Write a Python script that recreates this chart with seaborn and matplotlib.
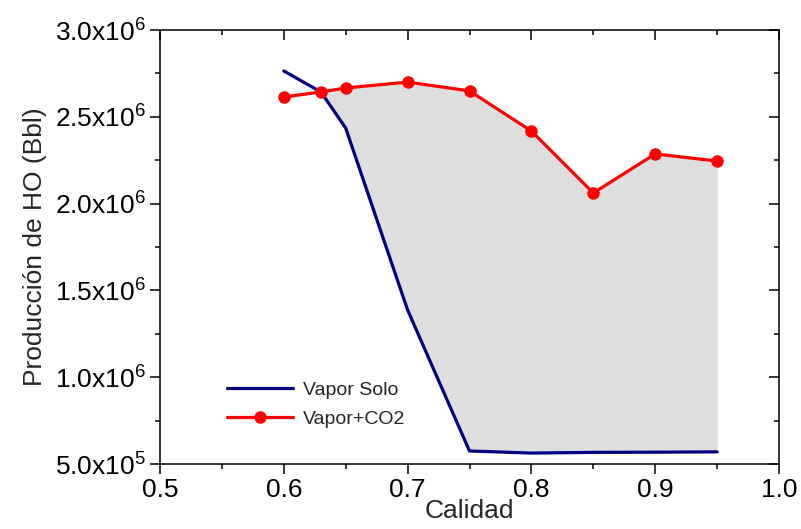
import matplotlib
matplotlib.use("Agg")
import matplotlib.pyplot as plt
import seaborn as sns
import pandas as pd
from matplotlib.ticker import MultipleLocator, FuncFormatter
from matplotlib.lines import Line2D

calidad = [0.60, 0.63, 0.65, 0.70, 0.75, 0.80, 0.85, 0.90, 0.95]
vapor_solo = [2.764e6, 2.643e6, 2.435e6, 1.387e6, 0.575e6, 0.563e6, 0.567e6, 0.568e6, 0.570e6]
vapor_co2 = [2.614e6, 2.643e6, 2.666e6, 2.700e6, 2.649e6, 2.418e6, 2.061e6, 2.286e6, 2.245e6]
x_ticks = [0.5, 0.6, 0.7, 0.8, 0.9, 1.0]
y_ticks = [5e5, 1.0e6, 1.5e6, 2.0e6, 2.5e6, 3.0e6]

sns.set_style("ticks")
narrow = ["Liberation Sans Narrow", "Liberation Sans", "DejaVu Sans"]
plt.rcParams["font.family"] = narrow
plt.rcParams["mathtext.fontset"] = "custom"
plt.rcParams["mathtext.rm"] = "Liberation Sans"
plt.rcParams["mathtext.it"] = "Liberation Sans"

df = pd.DataFrame({
    "Calidad": calidad * 2,
    "Prod": vapor_solo + vapor_co2,
    "Serie": ["Vapor Solo"] * len(calidad) + ["Vapor+CO2"] * len(calidad),
})

fig = plt.figure(figsize=(8.01, 5.29), dpi=100)
ax = fig.add_axes([160 / 801, 1 - 464 / 529, 619 / 801, 434 / 529])

ax.fill_between(calidad, vapor_solo, vapor_co2,
                where=[c >= b for b, c in zip(vapor_solo, vapor_co2)],
                interpolate=True, color="#DEDEDE", linewidth=0, zorder=1)

sns.lineplot(data=df[df.Serie == "Vapor Solo"], x="Calidad", y="Prod", ax=ax,
             color="#000080", linewidth=2.3, zorder=3, legend=False)
sns.lineplot(data=df[df.Serie == "Vapor+CO2"], x="Calidad", y="Prod", ax=ax,
             color="#FF0000", linewidth=2.3, marker="o", markersize=9,
             markeredgewidth=0, zorder=4, legend=False)

ax.set_xlim(0.5, 1.0)
ax.set_ylim(5e5, 3.0e6)
ax.set_xticks(x_ticks)
ax.set_yticks(y_ticks)
ax.xaxis.set_minor_locator(MultipleLocator(0.05))
ax.yaxis.set_minor_locator(MultipleLocator(2.5e5))
ax.xaxis.set_major_formatter(FuncFormatter(lambda v, p: f"{v:.1f}"))

def yfmt(v, p):
    e = 0
    m = v
    while abs(m) >= 10:
        m /= 10
        e += 1
    return r"$\mathregular{%.1fx10^{%d}}$" % (m, e)

ax.yaxis.set_major_formatter(FuncFormatter(yfmt))

for s in ax.spines.values():
    s.set_linewidth(1.1)
    s.set_color("black")
    s.set_visible(True)

ax.tick_params(which="major", direction="out", length=7, width=1.1,
               labelsize=19, colors="black", pad=3)
ax.tick_params(which="minor", direction="out", length=3.6, width=1.1, colors="black")
ax.tick_params(which="both", top=True, right=True)
# inward ticks on the mirrored axes
for t in ax.xaxis.get_major_ticks() + ax.xaxis.get_minor_ticks():
    t.tick2line.set_marker(matplotlib.lines.TICKDOWN)
for t in ax.yaxis.get_major_ticks() + ax.yaxis.get_minor_ticks():
    t.tick2line.set_marker(matplotlib.lines.TICKLEFT)

ax.set_xlabel("Calidad", fontsize=19, labelpad=-2)
ax.set_ylabel("Producción de HO (Bbl)", fontsize=19, labelpad=6)

handles = [
    Line2D([], [], color="#000080", linewidth=2.3),
    Line2D([], [], color="#FF0000", linewidth=2.3, marker="o", markersize=9, markeredgewidth=0),
]
ax.legend(handles, ["Vapor Solo", "Vapor+CO2"], loc="upper left",
          bbox_to_anchor=(0.08, 0.23), frameon=False,
          prop={"family": ["Liberation Sans", "DejaVu Sans"], "size": 14},
          handlelength=3.4, handletextpad=0.5, labelspacing=0.55)

fig.savefig("out.png", dpi=100)
